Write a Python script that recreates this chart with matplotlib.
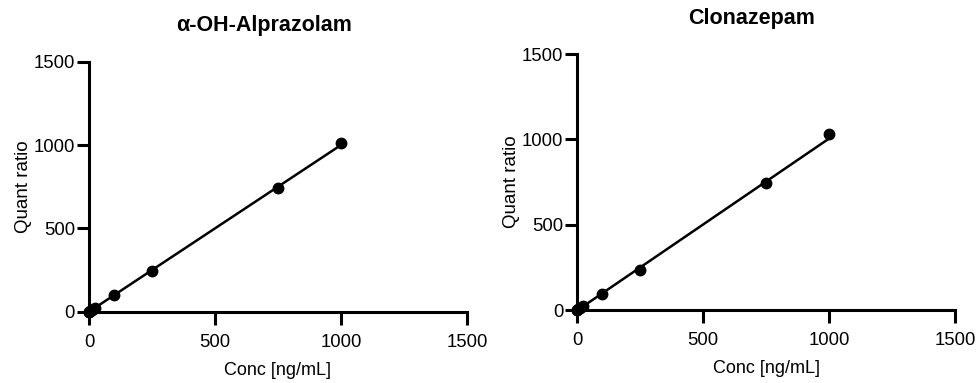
import numpy as np
import matplotlib.pyplot as plt

plt.rcParams['font.family'] = ['Liberation Sans', 'DejaVu Sans']

# Kalibracja - stezenia i odpowiedzi
conc = [0, 1, 5, 10, 25, 100, 250, 750, 1000]
alpraz_ratio = [0, 1, 5, 10, 25, 100, 245, 740, 1010]
clonaz_ratio = [0, 1, 5, 11, 24, 95, 235, 745, 1030]

# Linie dopasowania
fit_x = [0, 1000]
alpraz_fit = [0, 1000]
clonaz_fit = [-3, 1005]

titles = ["\u03b1-OH-Alprazolam", "Clonazepam"]
ticks = [0, 500, 1000, 1500]

fig = plt.figure(figsize=(9.8, 3.83), dpi=100)
axes = [fig.add_axes([0.0908, 0.186, 0.3857, 0.653]),
        fig.add_axes([0.5888, 0.1906, 0.3857, 0.668])]

for ax, y, fy, t in zip(axes, [alpraz_ratio, clonaz_ratio], [alpraz_fit, clonaz_fit], titles):
    ax.plot(fit_x, fy, color='black', lw=1.8)
    ax.plot(conc, y, 'o', color='black', ms=7.5, clip_on=False, zorder=5)
    ax.set_xlim(0, 1500)
    ax.set_ylim(0, 1500)
    ax.set_xticks(ticks)
    ax.set_yticks(ticks)
    ax.spines['top'].set_visible(False)
    ax.spines['right'].set_visible(False)
    for s in ['left', 'bottom']:
        ax.spines[s].set_linewidth(2.2)
    ax.tick_params(direction='out', length=9, width=2.2, labelsize=13.3)
    ax.tick_params(axis='y', pad=1)
    ax.tick_params(axis='x', pad=7)
    ax.set_xlabel("Conc [ng/mL]", fontsize=13, labelpad=8)
    ax.set_ylabel("Quant ratio", fontsize=13.5, labelpad=1)
    ax.set_title(t, fontsize=15.5, fontweight='bold', x=0.463, pad=22)

plt.savefig("out.png", dpi=100)
